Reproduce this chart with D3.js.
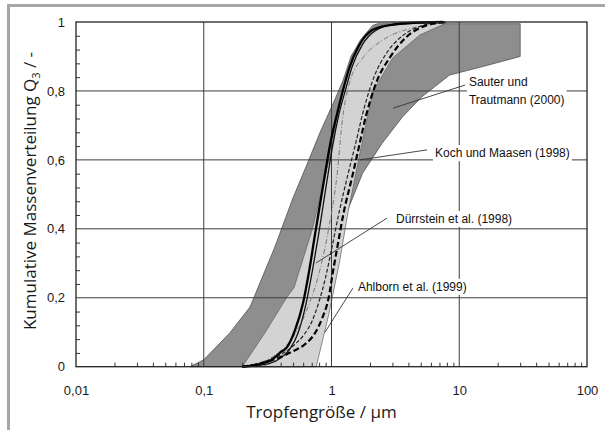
<!DOCTYPE html>
<html>
<head>
<meta charset="utf-8">
<script src="https://cdn.jsdelivr.net/npm/d3@7"></script>
<style>
  html, body { margin: 0; padding: 0; background: #fff; }
  svg { display: block; }
</style>
</head>
<body>
<svg id="chart" width="605" height="430"></svg>
<script>
// axes
const xTicks = [0.01, 0.1, 1, 10, 100];
const xTickLabels = ["0,01", "0,1", "1", "10", "100"];
const yTicks = [0, 0.2, 0.4, 0.6, 0.8, 1];
const yTickLabels = ["0", "0,2", "0,4", "0,6", "0,8", "1"];

// Sauter und Trautmann (2000) - dark band, outline read clockwise from bottom left
const sauterBand = [
  [0.078, 0], [0.1, 0.02], [0.16, 0.098], [0.23, 0.173], [0.36, 0.347], [0.5, 0.49],
  [0.64, 0.585], [0.81, 0.678], [1.06, 0.774], [1.23, 0.83], [1.42, 0.9], [1.7, 0.95],
  [2.1, 0.99], [2.3, 0.995], [30, 0.995], [30, 0.9], [15, 0.87], [8.4, 0.846],
  [5.1, 0.783], [3.6, 0.725], [2.5, 0.649], [1.75, 0.561], [1.26, 0.43], [0.95, 0.25],
  [0.75, 0.1], [0.6, 0]
];

// Koch und Maasen (1998) - light band
const kochBand = [
  [0.2, 0], [0.3, 0.097], [0.445, 0.2], [0.51, 0.23], [0.71, 0.4], [0.85, 0.52],
  [1.0, 0.63], [1.1, 0.72], [1.22, 0.797], [1.46, 0.904], [1.87, 0.968], [2.5, 0.991],
  [2.9, 0.997], [7.9, 0.997], [4.9, 0.962], [3.0, 0.895], [2.1, 0.797], [1.65, 0.61],
  [1.35, 0.45], [1.15, 0.3], [0.95, 0.15], [0.76, 0]
];

// Dürrstein et al. (1998) - solid curves
const duerrsteinA = [
  [0.2, 0], [0.28, 0.008], [0.34, 0.02], [0.4, 0.042], [0.449, 0.057], [0.518, 0.106],
  [0.598, 0.184], [0.67, 0.28], [0.74, 0.38], [0.82, 0.48], [0.9, 0.57], [0.97, 0.64],
  [1.1, 0.73], [1.22, 0.797], [1.38, 0.867], [1.65, 0.933], [2.09, 0.977], [2.84, 0.991],
  [4.5, 0.998], [7.4, 1.0]
];
const duerrsteinB = [
  [0.2, 0], [0.32, 0.008], [0.4, 0.025], [0.47, 0.05], [0.55, 0.1], [0.63, 0.18],
  [0.71, 0.28], [0.79, 0.38], [0.87, 0.48], [0.95, 0.57], [1.02, 0.64], [1.14, 0.73],
  [1.28, 0.8], [1.45, 0.87], [1.75, 0.935], [2.2, 0.975], [3, 0.992], [7.4, 1.0]
];

// thin grey dash-dot curve in the middle of the light band
const middleCurve = [
  [0.2, 0], [0.35, 0.03], [0.5, 0.086], [0.65, 0.17], [0.81, 0.28], [0.95, 0.4],
  [1.1, 0.55], [1.22, 0.72], [1.39, 0.826], [1.8, 0.9], [2.53, 0.948], [4.33, 0.983],
  [8, 0.997]
];

// Ahlborn et al. (1999) - dashed curves
const ahlbornA = [
  [0.2, 0], [0.3, 0.012], [0.4, 0.028], [0.5, 0.045], [0.62, 0.065], [0.75, 0.1],
  [0.85, 0.143], [0.95, 0.2], [1.02, 0.27], [1.1, 0.338], [1.25, 0.45], [1.45, 0.55],
  [1.6, 0.62], [1.87, 0.73], [2.25, 0.826], [2.84, 0.895], [3.8, 0.954], [4.87, 0.982],
  [6.7, 0.997], [8, 1.0]
];
const ahlbornB = [
  [0.2, 0], [0.3, 0.015], [0.4, 0.035], [0.5, 0.06], [0.6, 0.09], [0.7, 0.13],
  [0.8, 0.19], [0.9, 0.26], [1.0, 0.34], [1.15, 0.45], [1.35, 0.56], [1.55, 0.65],
  [1.8, 0.75], [2.15, 0.84], [2.7, 0.91], [3.6, 0.96], [5, 0.988], [7, 1.0]
];

// labels: text, text position, leader start, leader end (data coords)
const notes = [
  { lines: ["Sauter und", "Trautmann (2000)"], at: [11.9, 0.814], from: [11.1, 0.817], to: [3.03, 0.75] },
  { lines: ["Koch und Maasen (1998)"], at: [6.46, 0.608], from: [5.6, 0.629], to: [1.67, 0.6] },
  { lines: ["Dürrstein et al. (1998)"], at: [3.2, 0.417], from: [2.72, 0.431], to: [0.757, 0.301] },
  { lines: ["Ahlborn et al. (1999)"], at: [1.61, 0.22], from: [1.47, 0.228], to: [0.889, 0.1] }
];

const svg = d3.select("#chart");
const pLeft = 76, pRight = 587, pTop = 22, pBottom = 366.7;

const x = d3.scaleLog().domain([0.01, 100]).range([pLeft, pRight]);
const y = d3.scaleLinear().domain([0, 1]).range([pBottom, pTop]);

// grey picture frame
svg.append("line").attr("x1", 7).attr("x2", 605).attr("y1", 5.5).attr("y2", 5.5)
  .attr("stroke", "#a6a6a6").attr("stroke-width", 3);
svg.append("line").attr("x1", 8.5).attr("x2", 8.5).attr("y1", 4).attr("y2", 430)
  .attr("stroke", "#a6a6a6").attr("stroke-width", 3);

const toXY = (d) => [x(d[0]), y(d[1])];
const area = d3.line().curve(d3.curveLinearClosed);
const curve = d3.line().x((d) => x(d[0])).y((d) => y(d[1])).curve(d3.curveMonotoneX);

svg.append("path").attr("d", area(sauterBand.map(toXY)))
  .attr("fill", "#8e8e8e").attr("stroke", "#505050").attr("stroke-width", 0.8);
svg.append("path").attr("d", area(kochBand.map(toXY)))
  .attr("fill", "#d3d3d3").attr("stroke", "#606060").attr("stroke-width", 0.7);

// gridlines
const grid = svg.append("g").attr("stroke", "#3c3c3c").attr("stroke-width", 1);
grid.selectAll(".vx").data([0.1, 1, 10]).join("line")
  .attr("x1", (d) => x(d)).attr("x2", (d) => x(d)).attr("y1", pTop).attr("y2", pBottom);
grid.selectAll(".hy").data([0.2, 0.4, 0.6, 0.8]).join("line")
  .attr("x1", pLeft).attr("x2", pRight).attr("y1", (d) => y(d)).attr("y2", (d) => y(d));

// curves
svg.append("path").attr("d", curve(middleCurve)).attr("fill", "none")
  .attr("stroke", "#7a7a7a").attr("stroke-width", 1).attr("stroke-dasharray", "5,2,1,2");
svg.append("path").attr("d", curve(ahlbornB)).attr("fill", "none")
  .attr("stroke", "#222").attr("stroke-width", 1.2).attr("stroke-dasharray", "4,2");
svg.append("path").attr("d", curve(ahlbornA)).attr("fill", "none")
  .attr("stroke", "#000").attr("stroke-width", 2.2).attr("stroke-dasharray", "6,3");
svg.append("path").attr("d", curve(duerrsteinB)).attr("fill", "none")
  .attr("stroke", "#111").attr("stroke-width", 1.3);
svg.append("path").attr("d", curve(duerrsteinA)).attr("fill", "none")
  .attr("stroke", "#000").attr("stroke-width", 2.3);

// minor ticks
const minorX = [];
for (let e = -2; e < 2; e++) for (let m = 2; m <= 9; m++) minorX.push(m * Math.pow(10, e));
const minorY = d3.range(1, 25).map((i) => i * 0.04).filter((v) => Math.abs(v * 5 - Math.round(v * 5)) > 1e-6);

const xAxisMinor = svg.append("g").attr("transform", `translate(0,${pBottom})`)
  .call(d3.axisBottom(x).tickValues(minorX).tickSize(-4).tickFormat(""));
const yAxisMinor = svg.append("g").attr("transform", `translate(${pLeft},0)`)
  .call(d3.axisLeft(y).tickValues(minorY).tickSize(-4).tickFormat(""));
[xAxisMinor, yAxisMinor].forEach((g) => {
  g.select(".domain").remove();
  g.selectAll("line").attr("stroke", "#333").attr("stroke-width", 1);
});

// major tick labels
const xAxis = svg.append("g").attr("transform", `translate(0,${pBottom})`)
  .call(d3.axisBottom(x).tickValues(xTicks).tickSize(0).tickPadding(19)
    .tickFormat((d, i) => xTickLabels[i]));
const yAxis = svg.append("g").attr("transform", `translate(${pLeft},0)`)
  .call(d3.axisLeft(y).tickValues(yTicks).tickSize(0).tickPadding(11)
    .tickFormat((d, i) => yTickLabels[i]));
[xAxis, yAxis].forEach((g) => {
  g.select(".domain").remove();
  g.selectAll("text").attr("font-family", "'Liberation Sans', Arial, sans-serif")
    .attr("font-size", 13).attr("fill", "#1a1a1a");
});

// leaders + labels
const noteG = svg.append("g");
notes.forEach((n) => {
  noteG.append("line")
    .attr("x1", x(n.from[0])).attr("y1", y(n.from[1]))
    .attr("x2", x(n.to[0])).attr("y2", y(n.to[1]))
    .attr("stroke", "#333").attr("stroke-width", 0.9);
  const t = noteG.append("text")
    .attr("x", x(n.at[0])).attr("y", y(n.at[1]))
    .attr("font-family", "'Liberation Sans', Arial, sans-serif")
    .attr("font-size", 12).attr("fill", "#111");
  n.lines.forEach((s, i) => {
    t.append("tspan").attr("x", x(n.at[0])).attr("dy", i === 0 ? 0 : 18).text(s);
  });
  const b = t.node().getBBox();
  noteG.insert("rect", () => t.node())
    .attr("x", b.x - 2).attr("y", b.y - 1).attr("width", b.width + 4).attr("height", b.height + 2)
    .attr("fill", "#fff");
});

// plot frame
svg.append("rect").attr("x", pLeft).attr("y", pTop)
  .attr("width", pRight - pLeft).attr("height", pBottom - pTop)
  .attr("fill", "none").attr("stroke", "#222").attr("stroke-width", 1.3);

// axis titles
svg.append("text")
  .attr("x", (pLeft + pRight) / 2 - 10).attr("y", 418)
  .attr("text-anchor", "middle")
  .attr("font-family", "'Open Sans', 'Noto Sans', sans-serif")
  .attr("font-size", 17).attr("fill", "#1a1a1a")
  .text("Tropfengröße / µm");

const yt = svg.append("text")
  .attr("transform", "translate(36,191) rotate(-90)")
  .attr("text-anchor", "middle")
  .attr("font-family", "'Open Sans', 'Noto Sans', sans-serif")
  .attr("font-size", 17).attr("fill", "#1a1a1a");
yt.append("tspan").text("Kumulative Massenverteilung Q");
yt.append("tspan").attr("font-size", 11).attr("dy", 4).text("3");
yt.append("tspan").attr("dy", -4).text(" / -");
</script>
</body>
</html>
